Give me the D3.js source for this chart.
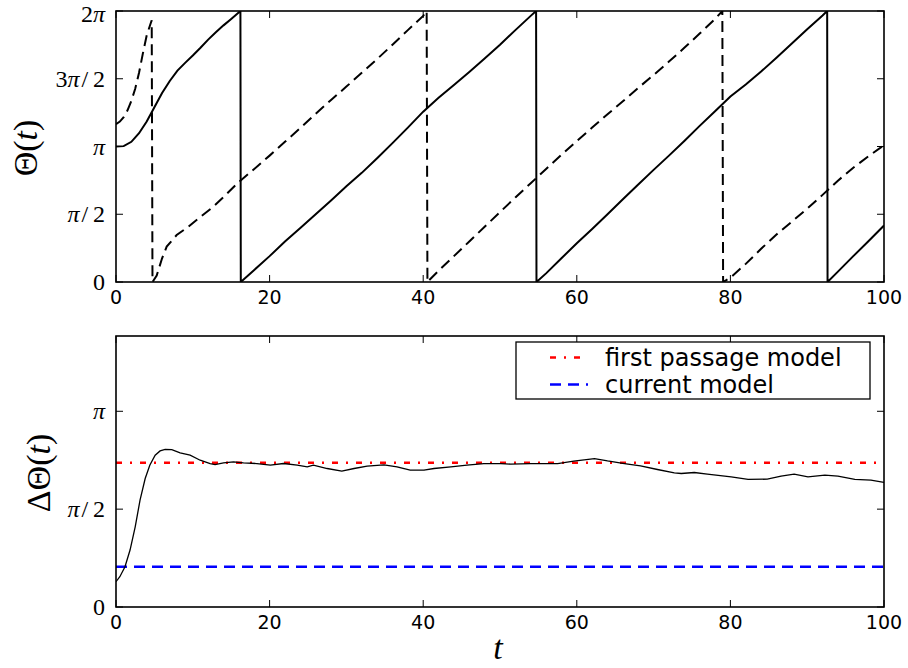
<!DOCTYPE html>
<html><head><meta charset="utf-8">
<script src="https://cdn.jsdelivr.net/npm/d3@7"></script>
<style>body{margin:0;background:#fff}svg{display:block}</style>
</head><body>
<svg id="c" width="908" height="668"></svg>
<script>
const PI = Math.PI;
// ---- data ----
const solidT = [0,1,2,3,4,5,6,7,8,9,10,11,12,13,14,15,16.2,
  16.25,18,20,22,24,26,28,30,32,34,36,38,40,42,44,46,48,50,52,54,54.7,
  54.75,56,58,60,62,64,66,68,70,72,74,76,78,80,82,84,86,88,90,92,92.6,
  92.65,94,96,98,100];
const solidTheta = [3.1416,3.15,3.25,3.45,3.72,4.05,4.38,4.66,4.9,5.08,5.25,5.43,5.62,5.79,5.95,6.1,6.283,
  0,0.28,0.6,0.94,1.25,1.57,1.89,2.22,2.53,2.87,3.22,3.58,3.95,4.27,4.57,4.87,5.18,5.5,5.84,6.17,6.283,
  0,0.2,0.55,0.9,1.23,1.57,1.92,2.26,2.6,2.93,3.27,3.62,3.96,4.3,4.58,4.88,5.2,5.53,5.86,6.18,6.283,
  0,0.24,0.6,0.95,1.31];
const dashedT = [0,0.5,1,1.5,2,2.5,3,3.5,4,4.65,
  4.75,5.3,6,6.6,7.9,9.4,11,12.7,14,16,18,20,22,24,26,28,30,32,34,36,38,40,40.45,
  40.55,42,44,46,48,50,52,54,56,58,60,62,64,66,68,70,72,74,76,78,78.95,
  79.05,80,82,84,86,88,90,92,94,96,98,100];
const dashedTheta = [3.66,3.72,3.82,3.98,4.2,4.48,4.85,5.3,5.72,6.07,
  0,0.15,0.55,0.82,1.09,1.28,1.51,1.75,1.97,2.32,2.62,2.93,3.25,3.57,3.9,4.22,4.53,4.85,5.17,5.5,5.84,6.17,6.283,
  0,0.26,0.6,0.94,1.28,1.62,1.96,2.29,2.62,2.95,3.27,3.58,3.89,4.19,4.5,4.8,5.11,5.43,5.76,6.1,6.283,
  0,0.1,0.42,0.77,1.1,1.4,1.7,2.02,2.35,2.65,2.92,3.17];
const deltaT = [0,0.5,1.17,1.83,2.5,3.13,3.8,4.4,5.1,5.74,6.4,7.26,8.35,9.65,10.96,12.26,12.9,14,15.3,16.6,18.35,20.1,21.8,23.6,24.9,
  25.7,27.5,29.4,31,32.7,34.9,36.6,38.3,40.1,41.4,43.6,45.7,47.9,50.1,
  51.4,54,57.5,59.6,62.3,64,66.2,68.3,70.5,72.7,73.6,75.3,77,80.1,82.3,84.8,86.6,88.3,90.1,92.3,94,96.2,98.3,100];
const deltaTheta = [0.406,0.486,0.646,0.914,1.287,1.715,2.063,2.276,2.436,2.505,2.53,2.527,2.473,2.436,2.356,2.303,2.287,2.313,2.33,2.313,2.303,2.276,2.303,2.276,2.249,
  2.276,2.223,2.18,2.223,2.26,2.281,2.249,2.196,2.196,2.223,2.249,2.276,2.303,2.303,
  2.292,2.303,2.303,2.34,2.383,2.345,2.303,2.265,2.207,2.153,2.143,2.159,2.132,2.089,2.047,2.052,2.1,2.132,2.089,2.116,2.1,2.047,2.036,1.999];
const firstPassage = 2.315;
const currentModel = 0.645;
const xTicks = [0,20,40,60,80,100];
const topYTicks = [0, PI/2, PI, 3*PI/2, 2*PI];
const topYLabels = [["0"],["","π","/2"],["","π",""],["3","π","/2"],["2","π",""]];
const botYTicks = [0, PI/2, PI];
const botYLabels = [["0"],["","π","/2"],["","π",""]];
const legendLabels = ["first passage model","current model"];

// ---- layout ----
const svg = d3.select("#c");
const L = 116, R = 884;
const x = d3.scaleLinear().domain([0,100]).range([L,R]);
const yTop = d3.scaleLinear().domain([0,2*PI]).range([282,11]);
const yBot = d3.scaleLinear().domain([0,4.35]).range([607,336]);

function panel(y, yt, ylab, id){
  const g = svg.append("g");
  svg.append("clipPath").attr("id",id).append("rect")
    .attr("x",L).attr("y",y.range()[1]).attr("width",R-L).attr("height",y.range()[0]-y.range()[1]);
  const tk = 7;
  xTicks.forEach(v=>{
    g.append("line").attr("x1",x(v)).attr("x2",x(v)).attr("y1",y.range()[0]).attr("y2",y.range()[0]-tk).attr("stroke","#000").attr("stroke-width",1);
    g.append("line").attr("x1",x(v)).attr("x2",x(v)).attr("y1",y.range()[1]).attr("y2",y.range()[1]+tk).attr("stroke","#000").attr("stroke-width",1);
    g.append("text").attr("x",x(v)).attr("y",y.range()[0]+22).attr("text-anchor","middle")
      .attr("font-family","DejaVu Sans").attr("font-size",19).text(v);
  });
  yt.forEach((v,i)=>{
    g.append("line").attr("x1",L).attr("x2",L+tk).attr("y1",y(v)).attr("y2",y(v)).attr("stroke","#000").attr("stroke-width",1);
    g.append("line").attr("x1",R).attr("x2",R-tk).attr("y1",y(v)).attr("y2",y(v)).attr("stroke","#000").attr("stroke-width",1);
    const t = g.append("text").attr("x",L-11).attr("y",Math.max(y(v)+8,22)).attr("text-anchor","end")
      .attr("font-family","Liberation Serif").attr("font-size",24);
    const parts = ylab[i];
    if(parts.length===1){ t.text(parts[0]); }
    else {
      if(parts[0]) t.append("tspan").text(parts[0]);
      t.append("tspan").attr("font-style","italic").text(parts[1]);
      if(parts[2]) t.append("tspan").attr("dx",2).text(parts[2].replace("/","/\u2009"));
    }
  });
  return g;
}
panel(yTop, topYTicks, topYLabels, "clipTop");
panel(yBot, botYTicks, botYLabels, "clipBot");

// top lines
const topLine = (T,V)=> d3.line().x((d,i)=>x(T[i])).y(d=>yTop(d))(V);
svg.append("path").attr("d",topLine(dashedT,dashedTheta)).attr("fill","none").attr("stroke","#000")
  .attr("stroke-width",2).attr("stroke-dasharray","11,6").attr("clip-path","url(#clipTop)");
svg.append("path").attr("d",topLine(solidT,solidTheta)).attr("fill","none").attr("stroke","#000")
  .attr("stroke-width",2).attr("clip-path","url(#clipTop)");

// bottom lines
svg.append("line").attr("x1",x(0)).attr("x2",x(100)).attr("y1",yBot(firstPassage)).attr("y2",yBot(firstPassage))
  .attr("stroke","#ff0000").attr("stroke-width",2.6).attr("stroke-dasharray","6,8,2,8");
svg.append("line").attr("x1",x(0)).attr("x2",x(100)).attr("y1",yBot(currentModel)).attr("y2",yBot(currentModel))
  .attr("stroke","#0000ff").attr("stroke-width",2.6).attr("stroke-dasharray","11,7");
svg.append("path").attr("d", d3.line().x((d,i)=>x(deltaT[i])).y(d=>yBot(d))(deltaTheta))
  .attr("fill","none").attr("stroke","#000").attr("stroke-width",1.3).attr("clip-path","url(#clipBot)");

// frames
[yTop,yBot].forEach(y=>{
  svg.append("rect").attr("x",L).attr("y",y.range()[1]).attr("width",R-L).attr("height",y.range()[0]-y.range()[1])
    .attr("fill","none").attr("stroke","#000").attr("stroke-width",1.6);
});

// legend
const lg = svg.append("g");
lg.append("rect").attr("x",516).attr("y",342).attr("width",354).attr("height",57)
  .attr("fill","#fff").attr("stroke","#000").attr("stroke-width",1.3);
const legStyles = [{c:"#ff0000",d:"6,8,2,8"},{c:"#0000ff",d:"11,7"}];
legendLabels.forEach((s,i)=>{
  const yy = 357.5 + i*27;
  lg.append("line").attr("x1",550).attr("x2",588).attr("y1",yy).attr("y2",yy)
    .attr("stroke",legStyles[i].c).attr("stroke-width",2.6).attr("stroke-dasharray",legStyles[i].d);
  lg.append("text").attr("x",605).attr("y",yy+8).attr("font-family","DejaVu Sans").attr("font-size",24).text(s);
});

// axis labels
function ylab(tx,ty,pre){
  const t = svg.append("text").attr("transform",`translate(${tx},${ty}) rotate(-90)`).attr("text-anchor","middle")
    .attr("font-family","Liberation Serif").attr("font-size",34);
  t.append("tspan").text(pre+"Θ(");
  t.append("tspan").attr("font-style","italic").text("t");
  t.append("tspan").text(")");
}
ylab(37,148,"");
ylab(50,473,"Δ");
svg.append("text").attr("x",498).attr("y",659).attr("text-anchor","middle").attr("font-family","Liberation Serif")
  .attr("font-style","italic").attr("font-size",34).text("t");
</script>
</body></html>
